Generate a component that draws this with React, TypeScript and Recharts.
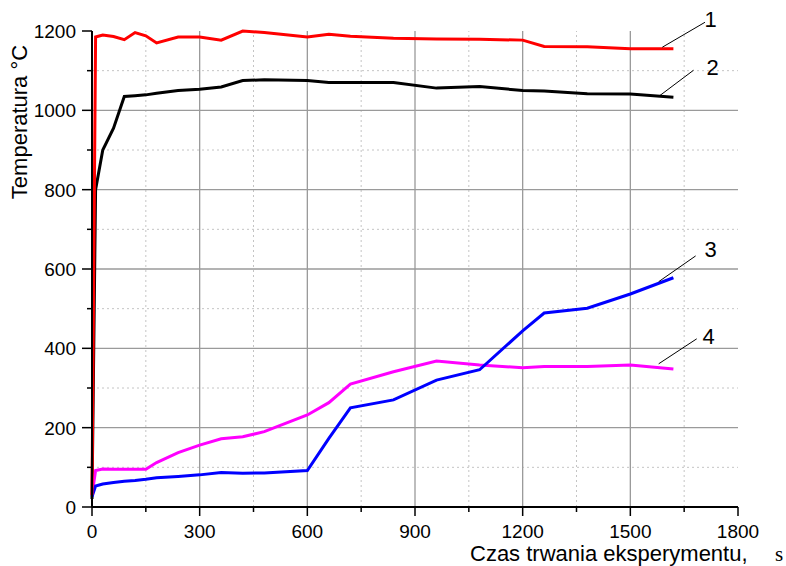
import React from "react";
import {
  LineChart,
  Line,
  XAxis,
  YAxis,
  ReferenceLine,
  ReferenceDot,
} from "recharts";

// time, s
const times = [
  0, 10, 30, 60, 90, 120, 150, 180, 240, 300, 360, 420, 480, 600, 660, 720,
  840, 960, 1080, 1200, 1260, 1380, 1500, 1620,
];

// curve 1 (red)
const curve1 = [
  30, 1185, 1190, 1186, 1178, 1196, 1188, 1170, 1185, 1185, 1177, 1200, 1196,
  1185, 1192, 1187, 1182, 1180, 1179, 1177, 1161, 1160, 1155, 1155,
];

// curve 2 (black)
const curve2 = [
  20, 800, 900, 955, 1035, 1037, 1039, 1043, 1050, 1053, 1059, 1075, 1077,
  1075, 1070, 1070, 1070, 1056, 1060, 1050, 1049, 1042, 1041, 1033,
];

// curve 3 (blue)
const curve3 = [
  26, 53, 58, 62, 65, 67, 70, 74, 77, 81, 87, 85, 86, 92, 173, 250, 270, 320,
  346, 444, 489, 501, 537, 578,
];

// curve 4 (magenta)
const curve4 = [
  30, 92, 96, 95, 95, 95, 95, 112, 137, 156, 172, 177, 190, 232, 263, 310, 341,
  368, 358, 351, 354, 354, 358, 348,
];

const xTicks = [
  0, 150, 300, 450, 600, 750, 900, 1050, 1200, 1350, 1500, 1650, 1800,
];
const yTicks = [
  0, 100, 200, 300, 400, 500, 600, 700, 800, 900, 1000, 1100, 1200,
];

const xMajorGrid = [300, 600, 900, 1200, 1500];
const xMinorGrid = [150, 450, 750, 1050, 1350, 1650];
const yMajorGrid = [200, 400, 600, 800, 1000];
const yMinorGrid = [100, 300, 500, 700, 900, 1100];

// curve numbers with their leader lines (data coordinates)
const curveNames = ["1", "2", "3", "4"];
const leaderStart = [
  { x: 1589, y: 1159 },
  { x: 1579, y: 1035 },
  { x: 1579, y: 568 },
  { x: 1579, y: 361 },
];
const leaderEnd = [
  { x: 1708, y: 1222 },
  { x: 1676, y: 1101 },
  { x: 1682, y: 633 },
  { x: 1685, y: 424 },
];
const namePos = [
  { x: 1724, y: 1229 },
  { x: 1729, y: 1108 },
  { x: 1724, y: 651 },
  { x: 1718, y: 431 },
];

const data = times.map((t, i) => ({
  t,
  c1: curve1[i],
  c2: curve2[i],
  c3: curve3[i],
  c4: curve4[i],
}));

const SANS = "'Liberation Sans', Arial, sans-serif";
const X_TICK_SIZE = 8;
const X_TICK_MARGIN = 10;
const Y_TICK_SIZE = 9;
const Y_TICK_MARGIN = 7;

const XTick = (props: any) => {
  const { x, y, payload } = props;
  const v = payload.value;
  const major = v % 300 === 0;
  const y0 = y - X_TICK_SIZE - X_TICK_MARGIN;
  return (
    <g>
      <line
        x1={x}
        x2={x}
        y1={y0}
        y2={y0 + (major ? 9 : 5)}
        stroke="#000"
        strokeWidth={1.5}
      />
      {major && (
        <text
          x={x}
          y={y0 + 31}
          textAnchor="middle"
          fontSize={19}
          fontFamily={SANS}
          fill="#000"
        >
          {v}
        </text>
      )}
    </g>
  );
};

const YTick = (props: any) => {
  const { x, y, payload } = props;
  const v = payload.value;
  const major = v % 200 === 0;
  const x0 = x + Y_TICK_SIZE + Y_TICK_MARGIN;
  return (
    <g>
      <line
        x1={x0}
        x2={x0 - (major ? 10 : 5)}
        y1={y}
        y2={y}
        stroke="#000"
        strokeWidth={1.5}
      />
      {major && (
        <text
          x={x0 - 16}
          y={y}
          dy="0.36em"
          textAnchor="end"
          fontSize={19}
          fontFamily={SANS}
          fill="#000"
        >
          {v}
        </text>
      )}
    </g>
  );
};

const XLabel = (props: any) => {
  const { x, y } = props.viewBox;
  return (
    <g>
      <text x={x + 378} y={y + 54} fontSize={22} fontFamily={SANS} fill="#000">
        Czas trwania eksperymentu,
      </text>
      <text
        x={x + 683}
        y={y + 54}
        fontSize={21}
        fontFamily="'Liberation Serif', 'Times New Roman', serif"
        fill="#000"
      >
        s
      </text>
    </g>
  );
};

const YLabel = (props: any) => {
  const { x, y } = props.viewBox;
  const cx = x + 27;
  const cy = y + 91;
  return (
    <text
      x={cx}
      y={cy}
      transform={`rotate(-90 ${cx} ${cy})`}
      textAnchor="middle"
      fontSize={22}
      fontFamily={SANS}
      fill="#000"
    >
      Temperatura °C
    </text>
  );
};

const App: React.FC = () => {
  return (
    <div
      style={{ position: "absolute", left: 0, top: 0, background: "#fff" }}
    >
      <LineChart
        width={786}
        height={566}
        data={data}
        margin={{ top: 31, right: 48, bottom: 0, left: 0 }}
      >
        <XAxis
          dataKey="t"
          type="number"
          domain={[0, 1800]}
          ticks={xTicks}
          interval={0}
          height={59}
          tickSize={X_TICK_SIZE}
          tickMargin={X_TICK_MARGIN}
          tickLine={false}
          tick={XTick}
          axisLine={{ stroke: "#000", strokeWidth: 2 }}
          label={XLabel}
        />
        <YAxis
          type="number"
          domain={[0, 1200]}
          ticks={yTicks}
          interval={0}
          width={92}
          tickSize={Y_TICK_SIZE}
          tickMargin={Y_TICK_MARGIN}
          tickLine={false}
          tick={YTick}
          axisLine={{ stroke: "#000", strokeWidth: 2 }}
          label={YLabel}
        />

        {xMinorGrid.map((v) => (
          <ReferenceLine
            key={`xm${v}`}
            x={v}
            stroke="#c4c4c4"
            strokeWidth={1}
            strokeDasharray="2 3"
          />
        ))}
        {yMinorGrid.map((v) => (
          <ReferenceLine
            key={`ym${v}`}
            y={v}
            stroke="#c4c4c4"
            strokeWidth={1}
            strokeDasharray="2 3"
          />
        ))}
        {xMajorGrid.map((v) => (
          <ReferenceLine key={`xM${v}`} x={v} stroke="#9a9a9a" strokeWidth={1.3} />
        ))}
        {yMajorGrid.map((v) => (
          <ReferenceLine key={`yM${v}`} y={v} stroke="#9a9a9a" strokeWidth={1.3} />
        ))}

        <Line
          dataKey="c2"
          stroke="#000000"
          strokeWidth={3}
          dot={false}
          isAnimationActive={false}
        />
        <Line
          dataKey="c4"
          stroke="#ff00ff"
          strokeWidth={3}
          dot={false}
          isAnimationActive={false}
        />
        <Line
          dataKey="c3"
          stroke="#0000ff"
          strokeWidth={3}
          dot={false}
          isAnimationActive={false}
        />
        <Line
          dataKey="c1"
          stroke="#ff0000"
          strokeWidth={3}
          dot={false}
          isAnimationActive={false}
        />

        {curveNames.map((name, i) => (
          <ReferenceLine
            key={`ld${name}`}
            segment={[leaderStart[i], leaderEnd[i]]}
            stroke="#000"
            strokeWidth={1}
            ifOverflow="visible"
          />
        ))}
        {curveNames.map((name, i) => (
          <ReferenceDot
            key={`nm${name}`}
            x={namePos[i].x}
            y={namePos[i].y}
            r={0}
            stroke="none"
            fill="none"
            ifOverflow="visible"
            label={{
              value: name,
              position: "center",
              fontSize: 22,
              fontFamily: SANS,
              fill: "#000",
            }}
          />
        ))}
      </LineChart>
    </div>
  );
};

export default App;
